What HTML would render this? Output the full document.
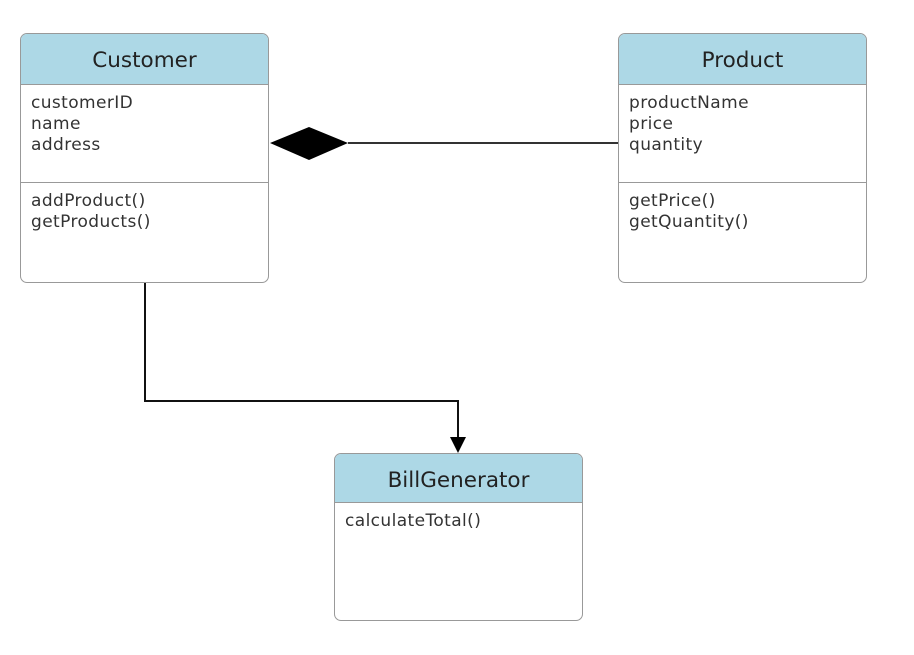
<!DOCTYPE html>
<html><head><meta charset="utf-8"><style>
body{margin:0;background:#fff;width:914px;height:655px;overflow:hidden;font-family:"DejaVu Sans","Liberation Sans",sans-serif;}
.box{position:absolute;border:1.5px solid #999;border-radius:7px;background:#fff;box-sizing:border-box;overflow:hidden;}
.hd{background:#add8e6;border-bottom:1.5px solid #999;text-align:center;font-size:21.5px;color:#222;box-sizing:border-box;}
.sec{font-size:17px;letter-spacing:0.4px;color:#333;line-height:21px;padding:8px 0 0 10px;box-sizing:border-box;}
.div{border-bottom:1.5px solid #999;}
</style></head><body>
<div class="box" style="left:20px;top:33px;width:249px;height:250px">
 <div class="hd" style="height:51px;line-height:54px">Customer</div>
 <div class="sec div" style="height:98px">customerID<br>name<br>address</div>
 <div class="sec">addProduct()<br>getProducts()</div>
</div>
<div class="box" style="left:618px;top:33px;width:249px;height:250px">
 <div class="hd" style="height:51px;line-height:54px">Product</div>
 <div class="sec div" style="height:98px">productName<br>price<br>quantity</div>
 <div class="sec">getPrice()<br>getQuantity()</div>
</div>
<div class="box" style="left:334px;top:453px;width:249px;height:168px">
 <div class="hd" style="height:49px;line-height:54px">BillGenerator</div>
 <div class="sec">calculateTotal()</div>
</div>
<svg width="914" height="655" style="position:absolute;left:0;top:0">
 <polygon points="270,143 309,127 348,143 309,160" fill="#000"/>
 <line x1="348" y1="143" x2="618" y2="143" stroke="#333" stroke-width="2"/>
 <polyline points="145,283 145,401 458,401 458,437" fill="none" stroke="#111" stroke-width="2"/>
 <polygon points="450,437 466,437 458,453" fill="#000"/>
</svg>
</body></html>
